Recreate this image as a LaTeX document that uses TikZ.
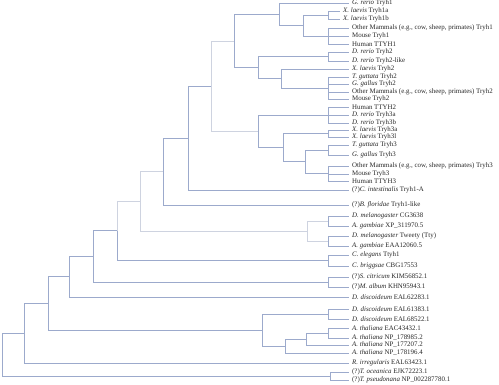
\documentclass[tikz,border=0pt]{standalone}
\usepackage{fontspec}
\setmainfont{Liberation Serif}
\definecolor{brc}{RGB}{156,170,204}
\definecolor{ltc}{RGB}{206,211,224}
\definecolor{txt}{RGB}{40,40,40}
\begin{document}
\begin{tikzpicture}[x=1pt,y=-1pt,
  br/.style={draw=brc, line width=0.65pt},
  lt/.style={draw=ltc, line width=0.65pt},
  leaf/.style={anchor=west, inner xsep=3pt, inner ysep=0pt, font=\fontsize{6.9}{7}\selectfont, text=txt}]
\useasboundingbox[fill=white] (0,0) rectangle (499,384);
% leaves
\node[leaf] (L1) at (349,3) {\textit{G. rerio} Tryh1};
\node[leaf] (L2) at (340,11) {\textit{X. laevis} Tryh1a};
\node[leaf] (L3) at (340,19) {\textit{X. laevis} Tryh1b};
\node[leaf] (L4) at (349,28) {Other Mammals (e.g., cow, sheep, primates) Tryh1};
\node[leaf] (L5) at (349,36) {Mouse Tryh1};
\node[leaf] (L6) at (349,44) {Human TTYH1};
\node[leaf] (L7) at (349,52) {\textit{D. rerio} Tryh2};
\node[leaf] (L8) at (349,61) {\textit{D. rerio} Tryh2-like};
\node[leaf] (L9) at (349,69) {\textit{X. laevis} Tryh2};
\node[leaf] (L10) at (349,77) {\textit{T. guttata} Tryh2};
\node[leaf] (L11) at (349,84) {\textit{G. gallus} Tryh2};
\node[leaf] (L12) at (349,92) {Other Mammals (e.g., cow, sheep, primates) Tryh2};
\node[leaf] (L13) at (349,99) {Mouse Tryh2};
\node[leaf] (L14) at (349,107) {Human TTYH2};
\node[leaf] (L15) at (349,115) {\textit{D. rerio} Tryh3a};
\node[leaf] (L16) at (349,123) {\textit{D. rerio} Tryh3b};
\node[leaf] (L17) at (349,130) {\textit{X. laevis} Tryh3a};
\node[leaf] (L18) at (349,137) {\textit{X. laevis} Tryh3l};
\node[leaf] (L19) at (349,145) {\textit{T. guttata} Tryh3};
\node[leaf] (L20) at (349,155) {\textit{G. gallus} Tryh3};
\node[leaf] (L21) at (349,166) {Other Mammals (e.g., cow, sheep, primates) Tryh3};
\node[leaf] (L22) at (349,174) {Mouse Tryh3};
\node[leaf] (L23) at (349,181) {Human TTYH3};
\node[leaf] (L24) at (349,190) {(?)\textit{C. intestinalis} Tryh1-A};
\node[leaf] (L25) at (349,205) {(?)\textit{B. floridae} Tryh1-like};
\node[leaf] (L26) at (349,216) {\textit{D. melanogaster} CG3638};
\node[leaf] (L27) at (349,226) {\textit{A. gambiae} XP\_311970.5};
\node[leaf] (L28) at (349,236) {\textit{D. melanogaster} Tweety (Tty)};
\node[leaf] (L29) at (349,246) {\textit{A. gambiae} EAA12060.5};
\node[leaf] (L30) at (349,255) {\textit{C. elegans} Ttyh1};
\node[leaf] (L31) at (349,266) {\textit{C. briggsae} CBG17553};
\node[leaf] (L32) at (349,277) {(?)\textit{S. citricum} KIM56852.1};
\node[leaf] (L33) at (349,287) {(?)\textit{M. album} KHN95943.1};
\node[leaf] (L34) at (349,297) {\textit{D. discoideum} EAL62283.1};
\node[leaf] (L35) at (349,309) {\textit{D. discoideum} EAL61383.1};
\node[leaf] (L36) at (349,319) {\textit{D. discoideum} EAL68522.1};
\node[leaf] (L37) at (349,328) {\textit{A. thaliana} EAC43432.1};
\node[leaf] (L38) at (349,338) {\textit{A. thaliana} NP\_178985.2};
\node[leaf] (L39) at (349,345) {\textit{A. thaliana} NP\_177207.2};
\node[leaf] (L40) at (349,353) {\textit{A. thaliana} NP\_178196.4};
\node[leaf] (L41) at (349,363) {\textit{R. irregularis} EAL63423.1};
\node[leaf] (L42) at (349,372) {(?)\textit{T. oceanica} EJK72223.1};
\node[leaf] (L43) at (349,380) {(?)\textit{T. pseudonana} NP\_002287780.1};
% internal nodes
\coordinate (n1a) at (328,15);
\coordinate (n1m) at (328,36);
\coordinate (n1x) at (303,25.5);
\coordinate (n1) at (279,14);
\coordinate (n2a) at (328,56.5);
\coordinate (n2b) at (328,88);
\coordinate (n2c) at (281,78.5);
\coordinate (n2) at (258,67.5);
\coordinate (n12) at (234,41);
\coordinate (n3a) at (328,115);
\coordinate (n3b) at (328,133.5);
\coordinate (n3c) at (328,150);
\coordinate (n3d) at (328,173.5);
\coordinate (n3e) at (305,161.75);
\coordinate (n3f) at (283,147.6);
\coordinate (n3) at (258,131.3);
\coordinate (n123) at (211,86);
\coordinate (nv) at (188,138);
\coordinate (nb) at (163,171.5);
\coordinate (ni1) at (328,221);
\coordinate (ni2) at (328,241);
\coordinate (ni) at (307,231);
\coordinate (nvi) at (140,201);
\coordinate (nce) at (328,260.5);
\coordinate (nm) at (117,230.75);
\coordinate (nfu) at (328,282);
\coordinate (nmf) at (93,256);
\coordinate (nd) at (69,276.5);
\coordinate (ndd) at (328,314);
\coordinate (nat1) at (328,333);
\coordinate (nat2) at (306,339);
\coordinate (nat3) at (285,346);
\coordinate (nda) at (262,330);
\coordinate (n48) at (48,303);
\coordinate (n24) at (24,333);
\coordinate (nt) at (330,376);
\coordinate (root) at (2,354.5);
% connectors
\foreach \p/\c in {n1a/L2.west,n1a/L3.west,n1m/L4.west,n1m/L5.west,n1m/L6.west,
  n1x/n1a,n1x/n1m,n1/L1.west,n1/n1x,
  n2a/L7.west,n2a/L8.west,n2b/L10.west,n2b/L11.west,n2b/L12.west,n2b/L13.west,
  n2c/L9.west,n2c/n2b,n2/n2a,n2/n2c,n12/n1,n12/n2,
  n3a/L14.west,n3a/L15.west,n3a/L16.west,n3b/L17.west,n3b/L18.west,
  n3c/L19.west,n3c/L20.west,n3d/L21.west,n3d/L22.west,n3d/L23.west,
  n3e/n3c,n3e/n3d,n3f/n3b,n3f/n3e,n3/n3a,n3/n3f,
  nv/n123,nv/L24.west,nb/nv,nb/L25.west,
  ni1/L26.west,ni1/L27.west,ni2/L28.west,ni2/L29.west,
  nce/L30.west,nce/L31.west,nm/nce,
  nfu/L32.west,nfu/L33.west,nmf/nm,nmf/nfu,nd/nmf,nd/L34.west,
  ndd/L35.west,ndd/L36.west,nat1/L37.west,nat1/L38.west,nat2/nat1,nat2/L39.west,
  nat3/nat2,nat3/L40.west,nda/ndd,nda/nat3,n48/nd,n48/nda,n24/n48,n24/L41.west,
  nt/L42.west,nt/L43.west,root/n24,root/nt}
  \draw[br] (\p) |- (\c);
\foreach \p/\c in {n123/n12,n123/n3,ni/ni1,ni/ni2,nvi/nb,nvi/ni,nm/nvi}
  \draw[lt] (\p) |- (\c);
\end{tikzpicture}
\end{document}
